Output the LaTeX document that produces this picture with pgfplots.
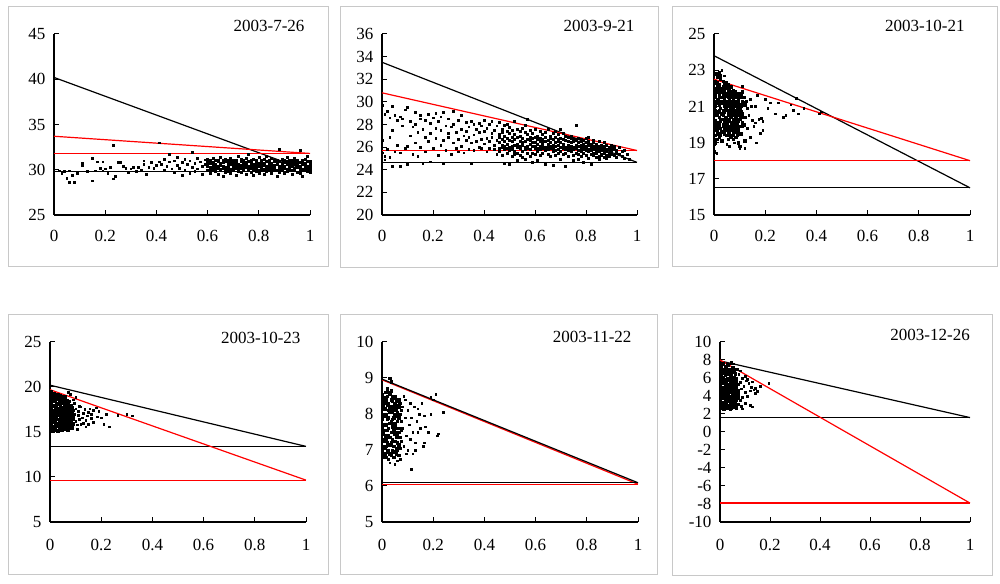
\documentclass[border=0pt]{standalone}
\usepackage{pgfplots}
\pgfplotsset{compat=1.18}
\usepackage{pgfplotstable}
\usepackage{fontspec}
\setmainfont{Liberation Serif}

\pgfplotstableread{
x a b c d e
0.60 30.4 30.9 29.9 31.2 30.6
0.61 30.1 30.7 31.0 29.6 30.3
0.62 30.8 30.2 30.5 31.3 29.9
0.63 30.3 31.1 29.8 30.6 30.0
0.64 29.5 30.4 30.9 31.0 30.2
0.65 30.7 30.1 31.4 29.9 30.5
0.66 30.2 30.8 29.3 30.4 31.1
0.67 30.9 30.3 30.0 31.2 29.7
0.68 30.5 29.8 30.7 31.0 30.2
0.69 30.1 30.6 31.3 29.6 30.9
0.70 30.8 30.3 29.9 30.5 31.0
0.71 29.4 30.7 30.2 31.1 30.4
0.72 30.6 30.0 31.5 30.3 29.8
0.73 30.2 30.9 30.5 29.7 31.2
0.74 30.7 30.4 29.9 31.0 30.1
0.75 30.3 31.3 30.6 29.5 30.8
0.76 30.9 30.1 31.7 30.4 29.9
0.77 30.5 29.7 30.8 31.1 30.2
0.78 30.0 30.6 31.2 30.3 29.4
0.79 30.8 30.2 29.8 31.0 30.5
0.80 30.4 31.4 30.0 30.7 29.6
0.81 29.9 30.6 31.1 30.3 30.9
0.82 30.7 30.1 29.5 30.5 31.2
0.83 30.2 30.9 30.4 31.5 29.8
0.84 30.6 29.9 31.0 30.3 30.8
0.85 30.1 30.7 30.4 29.6 31.3
0.86 30.9 30.2 31.1 30.5 29.9
0.87 29.3 30.6 30.0 30.8 31.0
0.88 30.4 32.3 30.9 30.1 29.7
0.89 30.7 30.3 31.2 29.9 30.5
0.90 30.2 30.8 29.6 31.0 30.4
0.91 30.9 30.1 30.6 31.4 29.8
0.92 30.5 29.9 30.3 30.8 31.1
0.93 30.0 30.7 31.0 29.5 30.4
0.94 30.6 30.2 30.9 31.3 29.9
0.95 30.3 30.8 29.7 30.5 31.0
0.96 30.8 30.1 32.2 30.4 29.6
0.97 30.1 30.6 31.1 29.3 30.9
0.98 30.7 30.3 30.0 31.2 30.5
0.99 30.4 29.8 30.9 31.5 30.2
1.00 30.6 30.0 30.3 30.9 29.7
}\pA

\pgfplotstableread{
x a b c
0.00 29.7 25.5 26.6
0.01 25.2 28.9 24.9
0.02 29.2 25.8 nan
0.03 26.9 25.1 28.6
0.04 27.5 24.3 29.6
0.05 25.6 28.8 nan
0.06 28.4 26.2 nan
0.07 24.3 28.7 25.5
0.08 27.9 28.5 nan
0.09 25.9 29.3 nan
0.10 24.5 29.5 26.1
0.11 28.3 27.0 nan
0.12 25.4 27.8 nan
0.13 29.1 26.4 28.0
0.14 27.3 25.2 nan
0.15 28.8 26.0 28.5
0.16 27.6 24.6 nan
0.17 28.4 25.6 26.9
0.18 26.5 28.9 nan
0.19 27.2 24.7 28.1
0.20 28.6 25.9 nan
0.21 26.8 29.0 27.7
0.22 25.3 28.3 nan
0.23 27.5 26.2 28.7
0.24 29.1 24.6 26.6
0.25 27.9 25.7 nan
0.26 28.5 26.9 27.2
0.27 25.4 27.8 nan
0.28 28.0 26.4 29.2
0.29 27.3 25.9 nan
0.30 26.7 28.4 25.6
0.31 27.6 26.1 28.8
0.32 25.5 27.0 nan
0.33 28.2 26.6 27.4
0.34 27.8 25.8 26.9
0.35 24.6 28.3 26.4
0.36 27.1 25.7 28.0
0.37 26.5 27.6 nan
0.38 28.1 26.0 27.3
0.39 25.9 27.9 26.7
0.40 27.4 26.3 28.4
0.41 26.8 25.6 27.7
0.42 28.0 26.5 25.9
0.43 27.2 26.9 28.3
0.44 25.8 27.5 26.2
0.45 26.6 27.9 25.4
}\pBs

\pgfplotstableread{
x a b c d e f
0.46 26.4 27.1 25.6 26.9 28.2 25.9
0.47 27.6 26.2 25.3 26.7 27.3 26.0
0.48 25.8 26.5 27.9 26.1 24.6 27.0
0.49 26.8 25.5 27.4 26.3 25.9 28.0
0.50 27.2 26.0 25.7 26.6 24.5 27.8
0.51 26.5 25.2 27.5 26.9 26.1 25.8
0.52 25.6 26.7 27.1 26.2 28.3 25.4
0.53 26.9 26.3 25.5 27.6 26.0 24.8
0.54 27.4 25.9 26.5 26.1 27.0 25.3
0.55 26.2 27.7 25.6 26.8 25.1 26.4
0.56 25.8 26.5 27.3 26.0 24.9 27.9
0.57 28.5 26.1 25.5 26.7 27.1 25.9
0.58 26.6 25.2 27.5 26.3 25.8 26.9
0.59 25.5 26.8 26.1 27.2 24.7 26.4
0.60 26.9 25.9 26.4 27.6 25.4 26.1
0.61 26.3 27.0 25.6 25.9 26.7 24.8
0.62 25.8 26.5 27.4 26.1 25.3 26.8
0.63 26.7 25.5 26.2 27.1 25.9 26.4
0.64 26.0 27.3 25.7 26.5 24.5 26.9
0.65 25.4 26.6 26.1 27.6 25.8 26.3
0.66 26.8 25.9 26.4 25.2 27.0 26.1
0.67 26.2 27.2 25.6 26.7 24.4 25.9
0.68 25.7 26.4 26.9 25.3 26.1 27.4
0.69 26.5 25.8 27.1 26.2 25.5 26.7
0.70 27.6 26.0 25.6 26.4 24.9 26.8
0.71 26.3 25.4 26.7 27.2 25.9 26.1
0.72 25.8 26.6 24.3 26.0 27.0 25.5
0.73 26.9 26.2 25.7 26.5 25.2 26.0
0.74 26.1 25.6 26.8 27.0 25.9 26.4
0.75 25.3 26.5 26.0 25.8 26.7 24.8
0.76 27.9 26.2 25.5 26.6 25.9 26.0
0.77 26.4 25.7 26.1 24.9 26.8 25.4
0.78 25.9 26.5 25.2 26.2 25.6 26.7
0.79 26.3 25.5 26.0 26.6 24.7 25.8
0.80 25.7 26.4 25.9 25.3 26.1 26.8
0.81 26.2 25.6 26.5 25.0 25.8 26.9
0.82 25.4 26.0 25.7 26.3 24.5 25.9
0.83 26.6 25.3 26.1 25.8 25.5 26.4
0.84 25.9 26.3 25.5 25.1 26.0 25.7
0.85 25.6 26.1 25.2 26.5 25.8 24.9
0.86 26.2 25.7 25.4 26.0 25.9 25.3
0.87 25.5 26.4 25.9 25.1 25.7 26.1
0.88 25.8 25.3 26.2 25.6 25.0 nan
0.89 26.0 25.5 25.8 25.2 nan nan
0.90 25.6 26.2 25.4 25.9 nan nan
0.91 25.3 25.8 26.1 nan nan nan
0.92 25.7 25.5 25.1 nan nan nan
0.93 26.0 25.4 nan nan nan nan
0.94 25.6 25.2 nan nan nan nan
0.95 25.0 25.7 nan nan nan nan
0.96 25.4 nan nan nan nan nan
0.97 24.9 nan nan nan nan nan
}\pBd

\pgfplotstableread{
x a b c d e f g h
0.000 19.1 20.6 21.3 18.5 19.8 22.0 20.9 18.9
0.005 21.7 19.4 20.2 22.4 21.0 19.0 20.8 21.5
0.010 20.5 21.9 19.2 22.8 21.2 19.7 20.0 22.3
0.015 21.4 20.1 22.6 19.5 20.7 21.8 22.1 19.9
0.020 22.9 20.4 21.1 19.3 21.6 20.8 22.2 20.0
0.025 20.9 22.5 19.8 21.3 20.2 21.9 19.4 22.7
0.030 21.5 19.6 22.0 20.6 21.2 19.1 20.3 21.8
0.035 20.0 21.7 22.4 19.9 20.8 21.3 22.1 20.5
0.040 22.2 20.7 19.5 21.4 20.1 21.9 19.8 21.0
0.045 21.1 22.0 20.4 19.7 21.6 20.9 22.3 20.2
0.050 19.4 21.3 20.8 22.1 20.0 21.7 19.9 21.0
0.055 20.6 21.8 22.2 19.6 21.1 20.3 21.5 19.2
0.060 21.9 20.2 19.8 21.4 20.7 22.0 20.5 19.5
0.065 20.4 21.6 21.0 19.3 22.1 20.9 19.9 21.3
0.070 21.2 19.7 20.6 21.8 20.1 19.4 21.5 20.8
0.075 20.0 21.4 19.5 20.9 21.9 20.3 19.2 21.1
0.080 21.6 20.5 19.9 21.2 20.2 19.6 21.8 20.7
0.085 19.8 21.0 20.4 21.5 19.3 20.8 21.3 20.1
0.090 20.9 21.7 20.0 19.6 21.2 20.5 19.4 21.0
0.095 21.3 20.2 19.7 20.8 21.6 19.0 20.6 21.4
0.100 20.5 21.1 19.9 21.5 20.3 18.8 20.9 21.7
0.105 21.0 20.4 21.6 19.5 20.7 nan nan nan
0.110 20.6 21.3 19.9 20.1 21.8 nan nan nan
0.115 21.2 20.0 21.5 nan nan nan nan nan
0.120 20.4 21.1 19.1 nan nan nan nan nan
}\pC

\pgfplotstableread{
x a b c d e f g h
0.000 15.2 16.8 18.3 19.4 17.1 15.9 18.9 16.3
0.005 17.6 19.0 15.5 16.4 18.1 17.0 19.5 15.8
0.010 16.1 18.5 17.3 15.1 19.2 16.7 17.9 18.8
0.015 18.0 15.6 16.9 19.3 17.4 15.3 18.6 16.5
0.020 15.9 17.7 19.1 16.2 18.4 17.0 15.4 18.9
0.025 17.2 16.0 18.2 15.7 19.0 16.6 17.8 15.2
0.030 18.7 16.4 15.8 17.5 16.9 19.2 15.1 18.1
0.035 16.3 18.9 17.1 15.5 18.3 16.0 17.6 19.0
0.040 17.9 15.7 16.6 18.6 15.3 17.3 19.1 16.2
0.045 15.6 17.4 18.8 16.1 17.0 15.2 18.2 16.8
0.050 18.4 16.5 15.9 17.7 19.0 16.3 15.4 17.2
0.055 16.7 18.1 17.5 15.3 16.4 18.7 17.0 15.8
0.060 17.8 15.5 16.2 18.3 17.1 15.9 18.9 16.6
0.065 16.0 17.6 18.5 16.8 15.4 17.2 16.3 18.0
0.070 17.3 16.1 15.7 18.2 16.9 17.8 15.2 16.5
0.075 16.6 17.9 16.2 15.6 18.4 17.0 16.0 nan
0.080 17.5 16.3 15.8 17.1 16.7 18.0 nan nan
0.085 16.0 17.2 16.9 15.5 17.7 nan nan nan
0.090 17.4 16.5 15.9 16.8 nan nan nan nan
}\pD

\pgfplotstableread{
x a b c d e f g h
0.000 7.05 7.85 8.35 7.45 6.95 8.55 7.65 8.15
0.005 7.3 8.0 6.8 7.7 8.4 7.1 8.2 7.5
0.010 8.45 7.25 7.95 6.9 8.15 7.55 7.05 8.3
0.015 7.4 8.6 7.1 8.0 7.7 6.8 8.4 7.3
0.020 8.25 7.55 6.95 8.5 7.85 7.2 8.7 7.0
0.025 7.6 8.3 7.0 7.4 8.6 7.9 6.75 8.1
0.030 8.05 7.35 8.55 7.75 6.9 8.2 7.15 9.0
0.035 7.2 8.4 7.8 6.85 8.1 7.5 8.65 8.9
0.040 8.35 7.0 7.65 8.5 7.3 8.05 6.95 7.85
0.045 7.75 8.2 7.1 7.9 8.45 6.8 7.55 8.1
0.050 7.45 8.0 8.3 7.25 7.7 6.95 8.5 7.6
0.055 8.15 7.5 6.9 8.25 7.35 7.95 7.05 8.4
0.060 7.6 8.35 7.2 7.0 8.05 7.45 7.8 nan
0.065 7.9 7.15 8.2 7.5 6.85 8.4 nan nan
0.070 7.35 8.0 7.6 7.05 8.3 nan nan nan
0.075 7.8 7.25 8.1 7.55 nan nan nan nan
}\pE

\pgfplotstableread{
x a b c d e f g h
0.000 2.8 4.5 6.9 3.6 5.7 7.4 4.1 5.2
0.005 5.9 3.1 4.8 6.5 2.7 7.2 3.9 5.4
0.010 4.2 6.1 3.3 7.6 5.0 2.9 6.6 4.6
0.015 6.7 3.8 5.5 2.6 4.4 7.0 3.2 5.8
0.020 3.5 5.2 7.3 4.0 6.3 2.8 5.7 4.7
0.025 5.6 2.9 4.3 6.8 3.7 5.0 7.1 3.1
0.030 4.9 6.4 3.4 5.3 2.7 4.1 6.0 7.5
0.035 3.0 5.8 6.6 4.5 3.8 7.0 5.1 2.8
0.040 6.2 4.0 3.2 5.5 4.8 2.9 6.8 3.6
0.045 4.4 3.3 5.9 7.7 3.9 5.0 2.7 6.3
0.050 5.3 6.7 4.6 3.0 5.8 3.5 4.1 7.2
0.055 3.7 4.9 6.1 5.4 2.8 6.9 4.3 3.2
0.060 5.1 3.4 4.0 6.5 4.7 3.0 5.6 nan
0.065 4.2 5.7 3.6 2.9 6.0 4.9 nan nan
0.070 3.8 4.6 5.3 3.1 nan nan nan nan
}\pF

\pgfplotsset{
  panel/.style={
    scale only axis,
    axis x line=bottom, axis y line=left,
    axis line style={-, black, line width=1.1bp},
    tick align=inside, major tick length=5bp,
    tick style={black, line width=1bp},
    xmin=0, xmax=1,
    xtick={0,0.2,0.4,0.6,0.8,1},
    xticklabels={0,0.2,0.4,0.6,0.8,1},
    tick label style={font=\fontsize{17bp}{20bp}\selectfont},
    y tick label style={xshift=-5bp},
    clip=false,
  },
  sp/.style={only marks, mark=square*, mark size=0.85bp, black},
  md/.style={only marks, mark=square*, mark size=1.0bp, black},
  cr/.style={only marks, mark=square*, mark size=1.25bp, black},
  bl/.style={black, line width=1.2bp, no marks},
  rl/.style={red, line width=1.2bp, no marks},
}
\newcommand{\datefont}{\fontsize{17bp}{20bp}\selectfont}

\begin{document}
\begin{tikzpicture}[x=1bp,y=1bp]
\path[use as bounding box] (0,0) rectangle (1000,584);
\definecolor{boxgray}{RGB}{200,200,200}
\draw[boxgray, line width=1bp] (8,317) rectangle (328,577);
\draw[boxgray, line width=1bp] (340,316) rectangle (658,577);
\draw[boxgray, line width=1bp] (672,317) rectangle (997,577);
\draw[boxgray, line width=1bp] (8,9) rectangle (328,269);
\draw[boxgray, line width=1bp] (340,9) rectangle (657,269);
\draw[boxgray, line width=1bp] (672,8) rectangle (992,269);

% Panel 1
\begin{axis}[panel, at={(54bp,369bp)}, anchor=south west, width=256bp, height=181bp,
  ymin=25, ymax=45, ytick={25,30,35,40,45}, yticklabels={25,30,35,40,45},
  x tick label style={yshift=-12bp}]
\addplot[sp] coordinates {(0.02,29.9)(0.03,29.6)(0.04,29.8)(0.05,29.1)(0.06,28.6)(0.06,29.9)(0.07,29.4)(0.08,28.6)(0.09,29.6)(0.11,30.5)(0.11,30.7)(0.13,29.8)(0.15,28.8)(0.15,31.3)(0.16,29.9)(0.17,30.9)(0.18,30.2)(0.19,30.9)(0.19,29.9)(0.2,30.1)(0.21,29.6)(0.22,30.3)(0.23,32.7)(0.23,29.0)(0.24,29.3)(0.25,30.8)(0.26,30.8)(0.27,30.4)(0.28,30.2)(0.29,29.7)(0.3,30.1)(0.31,30.3)(0.32,29.8)(0.33,30.3)(0.34,30.0)(0.35,30.6)(0.35,31.0)(0.36,29.5)(0.37,30.3)(0.38,30.8)(0.39,30.2)(0.40,30.5)(0.41,33.0)(0.41,30.9)(0.42,30.6)(0.43,30.0)(0.43,31.2)(0.44,30.4)(0.45,31.7)(0.45,30.9)(0.46,30.1)(0.47,31.0)(0.47,29.7)(0.48,30.5)(0.48,31.4)(0.49,30.2)(0.50,30.8)(0.50,29.4)(0.51,31.2)(0.51,30.0)(0.52,30.6)(0.53,29.6)(0.53,31.0)(0.54,31.9)(0.54,30.3)(0.55,30.7)(0.55,29.8)(0.56,31.3)(0.56,30.1)(0.57,30.9)(0.58,30.4)(0.58,29.5)(0.59,31.1)(0.59,30.6)};
\pgfplotsinvokeforeach{a,b,c,d,e}{\addplot[md] table[x=x,y=#1]{\pA};}
\addplot[bl] coordinates {(0,40.2) (1,29.8)};
\addplot[bl] coordinates {(0,29.8) (1,29.8)};
\addplot[rl] coordinates {(0,33.7) (1,31.8)};
\addplot[rl] coordinates {(0,31.8) (1,31.8)};
\node[anchor=base east, font=\datefont] at ([xshift=-2bp,yshift=2.5bp]rel axis cs:1,1) {2003-7-26};
\end{axis}

% Panel 2
\begin{axis}[panel, at={(382bp,369bp)}, anchor=south west, width=255bp, height=181bp,
  ymin=20, ymax=36, ytick={20,22,...,36}, yticklabels={20,22,24,26,28,30,32,34,36},
  x tick label style={yshift=-12bp}]
\pgfplotsinvokeforeach{a,b,c}{\addplot[sp] table[x=x,y=#1]{\pBs};}
\pgfplotsinvokeforeach{a,b,c,d,e,f}{\addplot[md] table[x=x,y=#1]{\pBd};}
\addplot[bl] coordinates {(0,33.5) (1,24.65)};
\addplot[bl] coordinates {(0,24.65) (1,24.65)};
\addplot[rl] coordinates {(0,30.8) (1,25.7)};
\addplot[rl] coordinates {(0,25.7) (1,25.7)};
\node[anchor=base east, font=\datefont] at ([xshift=1bp,yshift=2.5bp]rel axis cs:1,1) {2003-9-21};
\end{axis}

% Panel 3
\begin{axis}[panel, at={(714bp,369bp)}, anchor=south west, width=256bp, height=181bp,
  ymin=15, ymax=25, ytick={15,17,...,25}, yticklabels={15,17,19,21,23,25},
  x tick label style={yshift=-12bp}]
\pgfplotsinvokeforeach{a,b,c,d,e,f,g,h}{\addplot[cr] table[x=x,y=#1]{\pC};}
\addplot[sp] coordinates {(0.13,20.9)(0.14,21.4)(0.15,20.25)(0.16,20.1)(0.17,21.6)(0.18,19.5)(0.19,20.2)(0.19,19.7)(0.2,21.4)(0.21,20.9)(0.14,19.3)(0.12,18.7)(0.1,18.7)(0.08,19.0)(0.05,18.9)(0.22,21.2)(0.25,21.2)(0.24,20.6)(0.27,20.4)(0.28,20.5)(0.3,21.1)(0.31,20.8)(0.32,21.45)(0.33,20.6)(0.35,20.9)(0.41,20.6)(0.42,20.7)(0.16,21.0)(0.13,19.8)(0.11,22.1)(0.03,23.0)(0.02,22.9)(0.04,22.7)(0.01,18.4)(0.175,20.3)(0.185,20.35)(0.165,19.0)(0.11,20.4)(0.12,20.0)(0.125,21.3)(0.135,20.5)(0.145,21.0)(0.155,19.9)(0.06,18.8)};
\addplot[bl] coordinates {(0,23.8) (1,16.5)};
\addplot[bl] coordinates {(0,16.5) (1,16.5)};
\addplot[rl] coordinates {(0,22.5) (1,18.0)};
\addplot[rl] coordinates {(0,18.0) (1,18.0)};
\node[anchor=base east, font=\datefont] at ([xshift=-2bp,yshift=2.5bp]rel axis cs:1,1) {2003-10-21};
\end{axis}

% Panel 4
\begin{axis}[panel, at={(50bp,62bp)}, anchor=south west, width=256bp, height=180bp,
  ymin=5, ymax=25, ytick={5,10,...,25}, yticklabels={5,10,15,20,25},
  x tick label style={yshift=-13.5bp}]
\pgfplotsinvokeforeach{a,b,c,d,e,f,g,h}{\addplot[cr] table[x=x,y=#1]{\pD};}
\addplot[sp] coordinates {(0.095,17.0)(0.1,16.2)(0.1,17.6)(0.105,15.8)(0.11,16.9)(0.11,17.3)(0.115,16.4)(0.12,17.8)(0.12,15.9)(0.125,16.6)(0.13,17.1)(0.13,16.0)(0.135,17.5)(0.14,16.3)(0.145,16.8)(0.15,17.2)(0.15,15.9)(0.16,16.5)(0.17,17.4)(0.18,17.7)(0.19,17.3)(0.2,16.6)(0.21,15.9)(0.23,15.6)(0.22,17.0)(0.265,16.9)(0.3,17.0)(0.32,16.8)(0.095,18.2)(0.09,18.6)(0.1,18.9)(0.105,15.3)(0.08,19.2)(0.07,19.4)(0.115,17.9)(0.14,15.6)(0.16,17.0)(0.17,16.1)(0.185,16.7)(0.155,17.6)};
\addplot[bl] coordinates {(0,20.2) (1,13.4)};
\addplot[bl] coordinates {(0,13.4) (1,13.4)};
\addplot[rl] coordinates {(0,19.7) (1,9.65)};
\addplot[rl] coordinates {(0,9.65) (1,9.65)};
\node[anchor=base east, font=\datefont] at ([xshift=-2bp,yshift=-1.3bp]rel axis cs:1,1) {2003-10-23};
\end{axis}

% Panel 5
\begin{axis}[panel, at={(382bp,62bp)}, anchor=south west, width=256bp, height=180bp,
  ymin=5, ymax=10, ytick={5,6,...,10}, yticklabels={5,6,7,8,9,10},
  x tick label style={yshift=-13.5bp}]
\pgfplotsinvokeforeach{a,b,c,d,e,f,g,h}{\addplot[cr] table[x=x,y=#1]{\pE};}
\addplot[sp] coordinates {(0.08,7.6)(0.08,8.2)(0.085,7.1)(0.09,7.9)(0.09,8.4)(0.095,7.4)(0.1,8.1)(0.1,7.0)(0.105,7.7)(0.11,8.3)(0.11,7.3)(0.113,6.47)(0.115,7.9)(0.12,6.9)(0.12,7.5)(0.125,8.2)(0.13,7.2)(0.135,7.8)(0.14,7.5)(0.145,8.0)(0.15,7.6)(0.155,8.3)(0.16,7.1)(0.165,7.95)(0.17,7.65)(0.19,8.47)(0.19,8.0)(0.21,8.55)(0.215,7.4)(0.22,7.45)(0.24,8.05)(0.18,7.5)(0.2,8.4)(0.06,6.7)(0.05,6.6)(0.07,6.75)(0.03,6.65)(0.0,6.8)(0.095,6.9)(0.085,8.5)(0.14,8.15)(0.13,7.0)(0.165,7.2)};
\addplot[rl] coordinates {(0,8.95) (1,6.05)};
\addplot[rl] coordinates {(0,6.05) (1,6.05)};
\addplot[bl] coordinates {(0,8.97) (1,6.09)};
\addplot[bl] coordinates {(0,6.09) (1,6.09)};
\node[anchor=base east, font=\datefont] at ([xshift=-3bp,yshift=-0.7bp]rel axis cs:1,1) {2003-11-22};
\end{axis}

% Panel 6
\begin{axis}[panel, at={(720bp,62bp)}, anchor=south west, width=250bp, height=180bp,
  ymin=-10, ymax=10, ytick={-10,-8,...,10}, yticklabels={-10,-8,-6,-4,-2,0,2,4,6,8,10},
  x tick label style={yshift=-13.5bp}]
\pgfplotsinvokeforeach{a,b,c,d,e,f,g,h}{\addplot[cr] table[x=x,y=#1]{\pF};}
\addplot[sp] coordinates {(0.075,4.2)(0.075,6.4)(0.08,3.5)(0.08,5.5)(0.085,4.8)(0.085,2.9)(0.09,6.0)(0.09,3.9)(0.095,5.1)(0.1,4.4)(0.1,3.2)(0.105,5.7)(0.11,4.0)(0.115,5.4)(0.12,3.0)(0.12,4.6)(0.125,5.0)(0.13,2.8)(0.135,4.7)(0.14,4.3)(0.15,4.5)(0.16,5.1)(0.195,5.4)(0.055,7.6)(0.045,7.7)(0.07,7.0)(0.08,6.8)(0.1,6.2)(0.11,5.9)(0.09,2.6)(0.065,2.6)(0.04,2.5)(0.13,5.6)(0.14,4.9)};
\addplot[bl] coordinates {(0,7.9) (1,1.6)};
\addplot[bl] coordinates {(0,1.6) (1,1.6)};
\addplot[rl] coordinates {(0,8.0) (1,-7.9)};
\addplot[rl] coordinates {(0,-7.9) (1,-7.9)};
\node[anchor=base east, font=\datefont] at ([xshift=3.3bp,yshift=1.3bp]rel axis cs:1,1) {2003-12-26};
\end{axis}
\end{tikzpicture}
\end{document}
